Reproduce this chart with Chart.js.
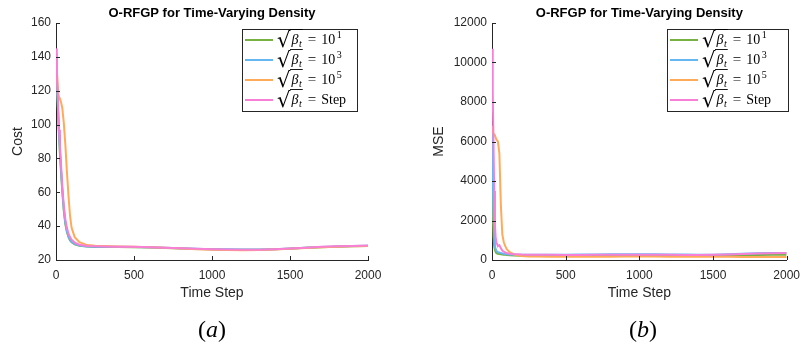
<!DOCTYPE html>
<html><head><meta charset="utf-8">
<script src="https://cdn.jsdelivr.net/npm/chart.js@4.4.1/dist/chart.umd.min.js"></script>
<style>
html,body{margin:0;padding:0;background:#fff;width:808px;height:350px;overflow:hidden}
.wrap{position:absolute;top:0;width:404px;height:350px}
#w1{left:0}#w2{left:404px}
.cap{position:absolute;top:317px;font-family:'Liberation Serif','DejaVu Serif',serif;font-size:24px;line-height:24px;color:#000;transform:translateX(-50%);white-space:nowrap}
.cap i{font-style:italic}
</style></head><body>
<div class="wrap" id="w1"><canvas id="c1" width="404" height="350"></canvas></div>
<div class="wrap" id="w2"><canvas id="c2" width="404" height="350"></canvas></div>
<div class="cap" style="left:212px">(<i>a</i>)</div>
<div class="cap" style="left:643px">(<i>b</i>)</div>
<script>
// ---------- data ----------
const timeSteps = [0,5,10,15,20,25,30,40,50,60,70,80,90,100,120,150,200,250,300,400,500,600,700,800,900,1000,1100,1200,1300,1400,1500,1600,1700,1800,1900,2000];

const costBeta1 = [138,126,114,102,92,83,75,61,49,41,36.5,33.5,31.5,30.5,29.3,28.4,27.9,27.7,27.7,27.7,27.6,27.4,27.1,26.8,26.5,26.3,26.1,26.0,26.0,26.3,26.7,27.2,27.6,27.9,28.1,28.3];
const costBeta3 = [140,128,116,104,94,85,77,62,50,42,37,34,32,30.8,29.5,28.5,28,27.8,27.8,27.8,27.7,27.5,27.2,26.9,26.6,26.4,26.3,26.2,26.2,26.4,26.8,27.3,27.7,28.0,28.2,28.4];
const costBeta5 = [142,133,124,118,116,115,114,110,101,88,72,58,46,39,33.5,30.5,28.8,28.4,28.2,28.0,27.9,27.6,27.2,26.8,26.4,26.1,25.9,25.8,25.9,26.2,26.6,27.1,27.6,27.9,28.1,28.3];
const costStep  = [145,133,120,108,97,88,80,64,52,44,39,35.5,33.5,32,30.3,29,28.3,28.1,28,27.9,27.8,27.6,27.3,27.0,26.7,26.4,26.2,26.0,26.1,26.4,26.8,27.3,27.8,28.1,28.3,28.5];

const mseBeta1 = [3900,2500,1200,700,500,400,350,320,300,290,280,270,260,250,240,230,220,215,215,215,220,225,230,235,240,240,235,230,225,220,220,230,245,255,260,260];
const mseBeta3 = [6500,4500,2500,1200,700,550,450,400,380,350,330,310,300,290,280,270,260,260,260,265,270,275,280,285,290,290,285,280,275,270,270,290,320,345,355,360];
const mseBeta5 = [6800,6500,6400,6350,6300,6200,6100,6000,5400,2800,1300,900,700,550,400,280,200,180,175,170,170,170,170,170,175,175,175,170,165,160,160,160,155,150,150,150];
const mseStep  = [10700,8500,6000,3500,1800,1100,900,700,750,600,480,420,380,350,320,300,280,270,265,260,255,255,260,265,270,270,265,260,255,255,260,280,310,335,345,350];

const seriesRhs = ['10^1','10^3','10^5','Step'];
const xTicks = [0,500,1000,1500,2000];
const costTicks = [20,40,60,80,100,120,140,160];
const mseTicks = [0,2000,4000,6000,8000,10000,12000];
const chartTitle = 'O-RFGP for Time-Varying Density';
const xLabel = 'Time Step';
const yLabels = ['Cost','MSE'];

// ---------- styles ----------
const colors = ['#77b043','#66b6f2','#ffaa5a','#f77fd6'];
const AXC = '#262626';
const SANS = "'Liberation Sans', Arial, Helvetica, sans-serif";
const SERIF = "'Liberation Serif','DejaVu Serif',serif";

function pts(arr){ return timeSteps.map((t,i)=>({x:t,y:arr[i]})); }

function drawTexLabel(ctx, x, base, rhs){
  ctx.fillStyle = '#000';
  ctx.textBaseline = 'alphabetic';
  ctx.textAlign = 'left';
  ctx.font = "100px 'DejaVu Serif', serif";
  let m = ctx.measureText('\u221A');
  const s = 100*18/(m.actualBoundingBoxAscent + m.actualBoundingBoxDescent);
  ctx.font = s.toFixed(2) + "px 'DejaVu Serif', serif";
  m = ctx.measureText('\u221A');
  const rb = base + 3.7 - m.actualBoundingBoxDescent;
  ctx.fillText('\u221A', x + m.actualBoundingBoxLeft, rb);
  const topY = rb - m.actualBoundingBoxAscent;
  const rRight = x + m.actualBoundingBoxLeft + m.actualBoundingBoxRight;
  let cx = rRight + 0.5;
  ctx.font = "italic 14px " + SERIF;
  ctx.fillText('\u03B2', cx, base);
  cx += ctx.measureText('\u03B2').width + 0.5;
  ctx.font = "italic 10px " + SERIF;
  ctx.fillText('t', cx, base + 3);
  cx += ctx.measureText('t').width + 1;
  ctx.save();
  ctx.strokeStyle = '#000'; ctx.lineWidth = 0.9;
  ctx.beginPath(); ctx.moveTo(rRight - 1, topY + 0.5); ctx.lineTo(cx, topY + 0.5); ctx.stroke();
  ctx.restore();
  cx += 5;
  ctx.font = "15px " + SERIF;
  ctx.fillText('=', cx, base);
  cx += ctx.measureText('=').width + 5;
  const mm = /^(\d+)\^(\d+)$/.exec(rhs);
  ctx.font = "14px " + SERIF;
  if (mm){
    ctx.fillText(mm[1], cx, base);
    cx += ctx.measureText(mm[1]).width + 1.5;
    ctx.font = "10px " + SERIF;
    ctx.fillText(mm[2], cx, base - 6);
  } else {
    ctx.fillText(rhs, cx, base);
  }
}

const decor = {
  id:'decor',
  afterDatasetsDraw(chart){
    const {ctx, chartArea:a, scales:{x,y}} = chart;
    ctx.save();
    ctx.strokeStyle = AXC; ctx.lineWidth = 1;
    ctx.beginPath();
    x.ticks.forEach(t=>{ const p = Math.round(x.getPixelForValue(t.value))+0.5; ctx.moveTo(p,a.bottom); ctx.lineTo(p,a.bottom-4); });
    y.ticks.forEach(t=>{ const p = Math.round(y.getPixelForValue(t.value))+0.5; ctx.moveTo(a.left,p); ctx.lineTo(a.left+4,p); });
    ctx.stroke();
    ctx.restore();
  },
  afterDraw(chart, args, opts){
    const {ctx, chartArea:a} = chart;
    ctx.save();
    ctx.fillStyle = '#000';
    ctx.font = "bold 13px " + SANS;
    ctx.textAlign = 'center'; ctx.textBaseline = 'alphabetic';
    ctx.fillText(chartTitle, (a.left+a.right)/2, 16.7);
    const n = chart.data.datasets.length;
    const L = opts.left, T = opts.top, W = opts.width, R = 20;
    const H = R*n + 2;
    ctx.fillStyle = '#fff'; ctx.fillRect(L, T, W, H);
    ctx.strokeStyle = AXC; ctx.lineWidth = 1; ctx.strokeRect(L+0.5, T+0.5, W, H);
    chart.data.datasets.forEach((ds,i)=>{
      const cy = T + 11 + i*R;
      ctx.strokeStyle = ds.borderColor; ctx.lineWidth = 2;
      ctx.beginPath(); ctx.moveTo(L+3, cy); ctx.lineTo(L+31, cy); ctx.stroke();
      drawTexLabel(ctx, L+35, cy+4.3, seriesRhs[i]);
    });
    ctx.restore();
  }
};

function makeChart(id, series, yMin, yMax, yTicks, yTitle, axisW, padRight, titlePad, legendPos){
  const order = [4,3,2,1];
  return new Chart(document.getElementById(id), {
    type:'line',
    data:{ datasets: series.map((arr,i)=>({
      label:'\u221A\u03B2t = ' + seriesRhs[i],
      data: pts(arr),
      borderColor: colors[i], backgroundColor: colors[i],
      borderWidth: 2, pointRadius: 0, tension: 0, fill: false, order: order[i]
    }))},
    options:{
      responsive:false, animation:false, devicePixelRatio:1,
      layout:{ padding:{ top:23, right:padRight, bottom:50, left:0 } },
      plugins:{ legend:{display:false}, tooltip:{enabled:false}, title:{display:false}, decor: legendPos },
      scales:{
        x:{ type:'linear', min:0, max:2000,
            afterBuildTicks(sc){ sc.ticks = xTicks.map(v=>({value:v})); },
            afterFit(sc){ sc.height = 40; },
            grid:{ display:true, drawOnChartArea:false, drawTicks:false },
            border:{ display:true, color:AXC, width:1 },
            ticks:{ padding:8, color:AXC, font:{family:SANS, size:12}, maxRotation:0, autoSkip:false, callback:v=>String(v) },
            title:{ display:true, text:xLabel, color:AXC, font:{family:SANS, size:14, lineHeight:1}, padding:{top:0,bottom:0} } },
        y:{ type:'linear', min:yMin, max:yMax,
            afterBuildTicks(sc){ sc.ticks = yTicks.map(v=>({value:v})); },
            afterFit(sc){ sc.width = axisW; },
            grid:{ display:true, drawOnChartArea:false, drawTicks:false },
            border:{ display:true, color:AXC, width:1 },
            ticks:{ padding:5, color:AXC, font:{family:SANS, size:12}, autoSkip:false, callback:v=>String(v) },
            title:{ display:true, text:yTitle, color:AXC, font:{family:SANS, size:14, lineHeight:1}, padding:{top:titlePad,bottom:0} } }
      }
    },
    plugins:[decor]
  });
}

makeChart('c1', [costBeta1,costBeta3,costBeta5,costStep], 20, 160, costTicks, yLabels[0], 56, 36, 11, {left:242, top:29, width:115});
makeChart('c2', [mseBeta1,mseBeta3,mseBeta5,mseStep], 0, 12000, mseTicks, yLabels[1], 88, 13, 28, {left:263, top:29, width:121});
</script>
</body></html>
